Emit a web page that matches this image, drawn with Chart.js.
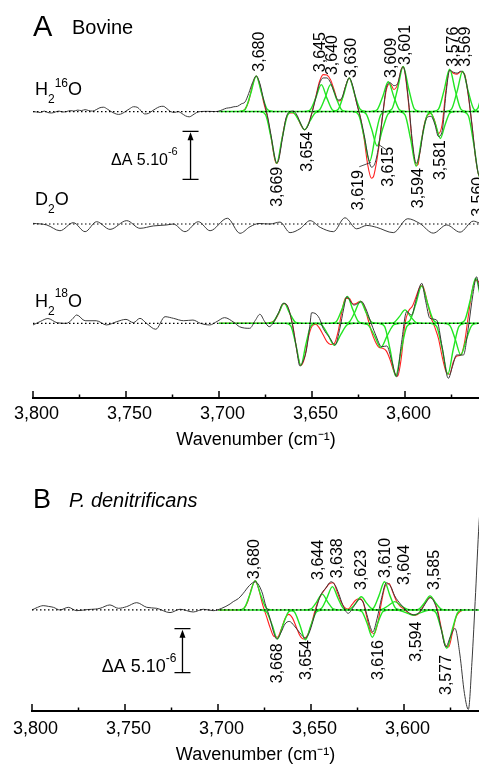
<!DOCTYPE html>
<html><head><meta charset="utf-8">
<script src="https://cdn.jsdelivr.net/npm/chart.js@4.4.1/dist/chart.umd.min.js"></script>
<style>
html,body{margin:0;padding:0;background:#fff;width:479px;height:766px;overflow:hidden;}
#wrapA{position:absolute;left:0;top:0;width:479px;height:460px;}
#wrapB{position:absolute;left:0;top:460px;width:479px;height:306px;}
canvas{display:block;}
</style></head><body>
<div id="wrapA"><canvas id="cA" width="479" height="460"></canvas></div>
<div id="wrapB"><canvas id="cB" width="479" height="306"></canvas></div>
<script>
// ---------------- DATA (values in units of 1e-6 absorbance, wavenumber in cm-1) ----------------
const tickWn = [3800,3775,3750,3725,3700,3675,3650,3625,3600,3575];
const tickLabels = ['3,800','','3,750','','3,700','','3,650','','3,600',''];
const scaleBarValue = 5;

const zeroLine = [[3800,0],[3550,0]];
const fitRange = [[3700,0],[3550,0]];

// Panel A, H2 16O
const h16Black = [[3800,0],[3798,-0.05],[3796,-0.1],[3794,0.05],[3792,-0.1],[3790,-0.15],[3788,-0.05],[3786,0.05],[3784,-0.05],[3782,0],[3780,0.1],[3778,0.05],[3776,0.15],[3774,0.1],[3772,0.2],[3770,0.1],[3768,0.05],[3766,0.2],[3764,0.4],[3762,0.45],[3760,0.25],[3758,0],[3756,-0.2],[3754,-0.3],[3752,-0.2],[3750,0.05],[3748,0.3],[3746,0.5],[3744,0.45],[3742,0.1],[3740,-0.25],[3738,-0.2],[3736,0.05],[3734,0.3],[3732,0.5],[3730,0.55],[3728,0.3],[3726,0],[3724,-0.1],[3722,0],[3720,-0.2],[3718,-0.45],[3716,-0.55],[3714,-0.35],[3712,-0.1],[3710,0],[3706,0.02],[3702,0],[3700,0.05],[3698,0.2],[3696,0.35],[3694,0.4],[3692,0.5],[3690,0.55],[3688,0.8],[3686,1.0],[3684,1.9],[3682,3.0],[3680,3.7],[3678,2.9],[3676,1.2],[3674,-0.4],[3672,-2.5],[3670,-4.8],[3669,-5.35],[3668,-5.1],[3666,-2.9],[3664,-0.7],[3662,0],[3660,0.05],[3658,-0.4],[3656,-1.3],[3654,-1.9],[3652,-1.4],[3650,-0.1],[3648,1.4],[3646,2.9],[3644,3.5],[3642,3.5],[3640,3.0],[3638,2.0],[3636,1.2],[3634,1.4],[3632,2.6],[3630,3.5],[3628,2.6],[3626,0.9],[3624,-0.6],[3622,-2.4],[3620,-4.6],[3618,-5.8],[3616,-5.3],[3614,-3.4],[3612,-0.3],[3610,2.5],[3608,3.0],[3606,2.7],[3604,2.9],[3602,4.4],[3601,4.65],[3600,4.1],[3598,0.9],[3596,-3.2],[3594,-5.4],[3592,-4.3],[3590,-1.8],[3588,-0.6],[3586,-0.5],[3584,-1.3],[3582,-2.6],[3580,-2.0],[3578,1.8],[3576,4.3],[3574,4.1],[3572,4.0],[3570,4.2],[3568,3.8],[3566,1.8],[3564,-1.4],[3562,-4.8],[3560,-6.7],[3558,-6.2]];
const h16Fit = [[3700,0],[3692,0],[3690,0],[3688,0.03],[3686,0.25],[3684,1.1],[3682,2.75],[3680,3.7],[3678,2.7],[3676,0.95],[3674,-0.55],[3672,-2.7],[3670,-5.0],[3669,-5.4],[3668,-5.0],[3666,-2.7],[3664,-0.8],[3662,-0.15],[3660,-0.15],[3658,-0.55],[3656,-1.4],[3654,-1.9],[3652,-1.35],[3650,-0.1],[3648,1.5],[3646,3.1],[3644,3.85],[3642,3.8],[3640,3.3],[3638,2.2],[3636,1.1],[3634,1.25],[3632,2.6],[3630,3.5],[3628,2.5],[3626,0.9],[3624,-0.6],[3622,-2.8],[3620,-5.6],[3618,-6.95],[3617,-6.8],[3616,-6.0],[3614,-3.6],[3612,-0.4],[3610,2.3],[3608,2.9],[3606,2.3],[3604,2.8],[3602,4.4],[3601,4.7],[3600,4.0],[3598,0.7],[3596,-3.5],[3594,-5.6],[3593,-5.5],[3592,-4.2],[3590,-1.7],[3588,-0.4],[3586,-0.2],[3584,-1.0],[3582,-2.3],[3580,-1.3],[3578,2.2],[3576,4.3],[3574,4.0],[3572,3.9],[3570,4.15],[3568,3.9],[3566,1.7],[3564,-1.4],[3562,-4.9],[3560,-6.8],[3558,-6.0]];
const h16Components = [
  [[3689,0],[3686,0.22],[3683,1.85],[3680,3.7],[3677,1.85],[3674,0.22],[3671,0]],
  [[3678,0],[3675,-0.32],[3672,-2.7],[3669,-5.4],[3666,-2.7],[3663,-0.32],[3660,0]],
  [[3663,0],[3660,-0.11],[3657,-0.95],[3654,-1.9],[3651,-0.95],[3648,-0.11],[3645,0]],
  [[3654,0],[3651,0.17],[3648,1.4],[3645,2.8],[3642,1.4],[3639,0.17],[3636,0]],
  [[3649,0],[3646,0.17],[3643,1.4],[3640,2.8],[3637,1.4],[3634,0.17],[3631,0]],
  [[3639,0],[3636,0.21],[3633,1.75],[3630,3.5],[3627,1.75],[3624,0.21],[3621,0]],
  [[3628,0],[3625,-0.31],[3622,-2.6],[3619,-5.2],[3616,-2.6],[3613,-0.31],[3610,0]],
  [[3624,0],[3621,-0.22],[3618,-1.8],[3615,-3.6],[3612,-1.8],[3609,-0.22],[3606,0]],
  [[3618,0],[3615,0.19],[3612,1.55],[3609,3.1],[3606,1.55],[3603,0.19],[3600,0]],
  [[3610,0],[3607,0.28],[3604,2.35],[3601,4.7],[3598,2.35],[3595,0.28],[3592,0]],
  [[3603,0],[3600,-0.34],[3597,-2.85],[3594,-5.7],[3591,-2.85],[3588,-0.34],[3585,0]],
  [[3588.5,0],[3586,-0.17],[3583.5,-1.4],[3581,-2.8],[3578.5,-1.4],[3576,-0.17],[3573.5,0]],
  [[3585,0],[3582,0.26],[3579,2.2],[3576,4.4],[3573,2.2],[3570,0.26],[3567,0]],
  [[3578,0],[3575,0.25],[3572,2.1],[3569,4.2],[3566,2.1],[3563,0.25],[3560,0]],
  [[3569,0],[3566,-0.41],[3563,-3.4],[3560,-6.8],[3557,-3.4],[3554,-0.41],[3551,0]],
  [[3564,0],[3561,0.3],[3558,2.5],[3555,5.0],[3552,2.5],[3549,0.3],[3546,0]]
];
// [text, wavenumber, value, direction]
const h16PeakLabels = [
  ['3,680',3678.3,4.15,1],['3,645',3645.3,4.1,1],['3,640',3639.1,3.8,1],['3,630',3628.7,3.5,1],
  ['3,609',3607.2,3.5,1],['3,601',3599.5,4.85,1],['3,576',3574.0,4.67,1],['3,569',3567.2,4.67,1],
  ['3,669',3668.4,-5.75,-1],['3,654',3652.5,-2.1,-1],['3,619',3625.1,-6.1,-1],['3,615',3609.0,-3.67,-1],
  ['3,594',3592.8,-5.9,-1],['3,581',3580.8,-2.97,-1],['3,560',3560.6,-6.8,-1]
];
const h16Leaders = [[3618.4,-5.3,3624.6,-5.75],[3614.3,-3.42,3609.9,-4.0]];

// Panel A, D2O
const d2oBlack = [[3800,0.07],[3792.6,-0.1],[3785.5,-0.7],[3778.3,0.14],[3772,-0.8],[3765.8,0.24],[3758.6,-0.56],[3749.6,0.35],[3742.5,-0.45],[3735.3,-0.2],[3728.1,-0.1],[3724.6,0],[3718.3,-0.8],[3711.1,0.24],[3704.8,-0.7],[3695.5,0.6],[3688.7,-0.97],[3683.3,-0.28],[3678.5,0.05],[3672.6,0],[3667.2,0.2],[3661.8,-0.9],[3656.5,-0.5],[3651,0.35],[3645.6,-0.35],[3638.5,-0.8],[3632.3,0.65],[3626,-0.5],[3620.6,-0.15],[3615.2,-0.35],[3606.3,-0.9],[3598.5,0.55],[3592,0.05],[3584.8,-0.95],[3577.6,-0.1],[3570.4,-0.85],[3563.3,0.3],[3560,0.1]];

// Panel A, H2 18O
const h18Black = [[3800,-0.17],[3796,0.2],[3792,0.5],[3787,0.06],[3782,0],[3779,0.4],[3776.5,0.87],[3772,0.27],[3766,0.27],[3760.5,-0.17],[3755,0.17],[3750,0.41],[3746,0.07],[3742.5,0.52],[3739,0],[3734,-0.62],[3729,0.69],[3724.5,0.52],[3719,0.27],[3714,0.34],[3710,0.0],[3705,-0.17],[3701,0.2],[3697,0.59],[3692,0.1],[3689,-0.35],[3683.5,-0.52],[3680.5,0.3],[3678,0.94],[3675.5,0.2],[3673,-0.35],[3671,0],[3668,1.1],[3665.5,2.08],[3663.5,1.9],[3661,0.34],[3658.5,-2.4],[3656.5,-4.45],[3654.5,-3.8],[3653,-2.78],[3651.2,-0.3],[3650.2,1.1],[3648.4,1.04],[3646,0.5],[3644,-0.52],[3640.5,-1.5],[3637.6,-2.26],[3635,-0.5],[3633,1.5],[3631.3,2.77],[3629,2.2],[3627.4,1.9],[3625,2.1],[3623.3,2.25],[3621,1.5],[3618.8,0.34],[3616,-1.1],[3612.5,-2.44],[3609.8,-2.36],[3607,-4.0],[3604.5,-5.56],[3602,-2.2],[3599.1,1.21],[3596.4,0.86],[3594,2.5],[3591,4.17],[3589,2.4],[3586.6,0.52],[3583,0.34],[3580,-2.5],[3576.7,-5.73],[3574.5,-4.5],[3572.3,-3.3],[3568.6,-3.3],[3566,-0.5],[3563.5,3.0],[3561.5,4.85],[3560,3.47],[3558,2.5]];
const h18Fit = [[3700,0],[3680,0],[3676,0],[3674,0],[3672,0.1],[3670,0.3],[3668,1.0],[3666,1.9],[3665,2.05],[3664,2.0],[3662,1.1],[3660,-0.6],[3658,-3.0],[3656,-4.4],[3654,-3.6],[3652,-1.5],[3650,-0.3],[3648,-0.1],[3646,-0.5],[3644,-1.2],[3642,-1.9],[3640,-2.2],[3638,-2.1],[3636,-0.9],[3634,1.2],[3632,2.6],[3630,2.6],[3628,2.0],[3626,2.1],[3624,2.3],[3622,1.8],[3620,0.5],[3618,-0.9],[3616,-1.9],[3614,-2.5],[3612,-2.6],[3610,-2.9],[3608,-3.8],[3606,-5.0],[3604,-5.5],[3602,-3.6],[3600,0.0],[3598,1.3],[3596,1.8],[3594,2.8],[3592,3.8],[3591,3.9],[3590,3.7],[3588,2.2],[3586,0.6],[3584,-0.4],[3582,-1.6],[3580,-3.5],[3578,-5.0],[3576,-5.3],[3574,-4.0],[3572,-3.4],[3570,-3.3],[3568,-2.0],[3566,0.7],[3564,3.3],[3562,4.5],[3560,4.2],[3558,3.0]];
const h18Components = [
  [[3674,0],[3671,0.13],[3668,1.05],[3665,2.1],[3662,1.05],[3659,0.13],[3656,0]],
  [[3664,0],[3661.4,-0.26],[3658.7,-2.2],[3656,-4.4],[3653.3,-2.2],[3650.6,-0.26],[3648,0]],
  [[3648.5,0],[3645,-0.14],[3641.5,-1.15],[3638,-2.3],[3634.5,-1.15],[3631,-0.14],[3627.5,0]],
  [[3640,0],[3637,0.17],[3634,1.4],[3631,2.8],[3628,1.4],[3625,0.17],[3622,0]],
  [[3633,0],[3630,0.14],[3627,1.15],[3624,2.3],[3621,1.15],[3618,0.14],[3615,0]],
  [[3623.5,0],[3620,-0.15],[3616.5,-1.25],[3613,-2.5],[3609.5,-1.25],[3606,-0.15],[3602.5,0]],
  [[3614,0],[3611,-0.33],[3608,-2.75],[3605,-5.5],[3602,-2.75],[3599,-0.33],[3596,0]],
  [[3609,0],[3606,0.08],[3603,0.7],[3600,1.4],[3597,0.7],[3594,0.08],[3591,0]],
  [[3601,0],[3597.6,0.23],[3594.3,1.95],[3591,3.9],[3587.7,1.95],[3584.4,0.23],[3581,0]],
  [[3586,0],[3583,-0.32],[3580,-2.65],[3577,-5.3],[3574,-2.65],[3571,-0.32],[3568,0]],
  [[3579,0],[3576,-0.2],[3573,-1.65],[3570,-3.3],[3567,-1.65],[3564,-0.2],[3561,0]],
  [[3571,0],[3568,0.28],[3565,2.35],[3562,4.7],[3559,2.35],[3556,0.28],[3553,0]]
];

// Panel B, P. denitrificans
const bBlack = [[3800,0],[3797,0.3],[3794,0.49],[3791,0.4],[3788.5,0.3],[3785,0],[3780.5,0.3],[3776,-0.08],[3770,0.05],[3766,0.1],[3763.4,0.19],[3758.1,0.57],[3753.6,0.19],[3749.1,0.38],[3743.7,0.83],[3738.3,0.3],[3733,0.19],[3725.8,-0.3],[3720.4,0.08],[3713.3,-0.23],[3707.9,0.08],[3702.5,-0.08],[3698,0.19],[3693.5,0.68],[3691.8,0.95],[3689,1.3],[3686.4,1.9],[3683,2.8],[3680,3.2],[3678,2.8],[3676,1.8],[3674.7,0.76],[3672,-1.0],[3670,-2.6],[3668.4,-3.3],[3666,-2.5],[3664,-1.6],[3661.7,-1.3],[3659,-1.8],[3656,-2.6],[3653,-3.2],[3651,-2.6],[3649,-1.3],[3647,0.3],[3645,1.6],[3642,2.5],[3639.2,3.2],[3637,2.8],[3635,1.8],[3633,0.6],[3630,-0.38],[3627,0.4],[3624,1.2],[3622,0.9],[3620,-0.5],[3618,-2.0],[3616.8,-2.5],[3614.5,-1.0],[3612,1.4],[3609.5,3.1],[3607,2.6],[3605,1.6],[3602,0.7],[3599,0.0],[3596,-0.5],[3594,-0.55],[3591,-0.1],[3588,0.9],[3586,1.4],[3584,1.0],[3582,-0.2],[3580,-2.2],[3577.5,-4.2],[3575,-3.0],[3572.6,-2.1],[3570,-5.0],[3567.5,-9.5],[3565.4,-11.3],[3563.5,-6],[3561.5,2],[3559.7,9.7],[3558,14]];
const bFit = [[3700,0],[3694,0],[3690,0],[3688,0.02],[3686,0.2],[3684,0.95],[3682,2.45],[3680,3.3],[3678,2.3],[3676,0.6],[3674,-0.7],[3672,-2.0],[3670,-3.0],[3668,-3.1],[3666,-2.2],[3664,-1.0],[3662,-0.5],[3660,-0.9],[3658,-1.9],[3656,-2.9],[3654,-3.3],[3652,-2.9],[3650,-1.8],[3648,-0.2],[3646,1.1],[3644,1.9],[3642,2.5],[3640,3.0],[3638,3.1],[3636,2.1],[3634,1.0],[3632,0.3],[3630,0.1],[3628,0.6],[3626,1.1],[3624,1.3],[3622,0.9],[3620,-0.8],[3618,-2.4],[3616,-2.7],[3614,-1.4],[3612,1.0],[3610,2.8],[3608,3.0],[3606,2.0],[3604,1.0],[3602,0.4],[3600,0.1],[3598,-0.3],[3596,-0.5],[3594,-0.6],[3592,-0.4],[3590,0.3],[3588,1.0],[3586,1.45],[3584,1.1],[3582,0.0],[3580,-2.0],[3578,-3.9],[3576,-4.2],[3574,-2.6],[3572,-0.8],[3570,-0.2],[3568,0]];
const bComponents = [
  [[3689,0],[3686,0.2],[3683,1.67],[3680,3.33],[3677,1.67],[3674,0.2],[3671,0]],
  [[3677,0],[3674,-0.2],[3671,-1.65],[3668,-3.3],[3665,-1.65],[3662,-0.2],[3659,0]],
  [[3662,0],[3659,-0.2],[3656,-1.7],[3653,-3.4],[3650,-1.7],[3647,-0.2],[3644,0]],
  [[3653,0],[3650,0.11],[3647,0.9],[3644,1.8],[3641,0.9],[3638,0.11],[3635,0]],
  [[3647.5,0],[3644.5,0.16],[3641.5,1.33],[3638.5,2.65],[3635.5,1.33],[3632.5,0.16],[3629.5,0]],
  [[3632,0],[3629,0.09],[3626,0.75],[3623,1.5],[3620,0.75],[3617,0.09],[3614,0]],
  [[3625.4,0],[3622.6,-0.19],[3619.8,-1.55],[3617,-3.1],[3614.2,-1.55],[3611.4,-0.19],[3608.6,0]],
  [[3619.5,0],[3616.5,0.19],[3613.5,1.6],[3610.5,3.2],[3607.5,1.6],[3604.5,0.19],[3601.5,0]],
  [[3615.5,0],[3612,0.06],[3608.5,0.48],[3605,0.95],[3601.5,0.48],[3598,0.06],[3594.5,0]],
  [[3607,0],[3603,-0.04],[3599,-0.3],[3595,-0.6],[3591,-0.3],[3587,-0.04],[3583,0]],
  [[3595,0],[3592,0.1],[3589,0.8],[3586,1.6],[3583,0.8],[3580,0.1],[3577,0]],
  [[3586,0],[3583,-0.26],[3580,-2.18],[3577,-4.35],[3574,-2.18],[3571,-0.26],[3568,0]]
];
const bPeakLabels = [
  ['3,680',3680.1,3.49,1],['3,644',3645.7,3.41,1],['3,638',3635.9,3.6,1],['3,623',3622.7,2.27,1],
  ['3,610',3609.8,3.64,1],['3,604',3599.5,2.84,1],['3,585',3583.3,2.27,1],
  ['3,668',3668.1,-3.78,-1],['3,654',3652.3,-3.41,-1],['3,616',3613.8,-3.41,-1],['3,594',3593.2,-1.33,-1],['3,577',3577.0,-5.11,-1]
];

// ---------------- LAYOUT / STYLE ----------------
const FONT = '"Liberation Sans", Arial, Helvetica, sans-serif';
const C_BLACK = '#3a3a3a', C_RED = '#ff2020', C_GREEN = '#22e622';
const A_OFF = {h16: 29.84, d2o: 18.125, h18: 7.78};
const B_OFF = 11.48;

function line(points, off, color, width, order, dash) {
  return {
    data: points.map(p => ({x: p[0], y: p[1] + off})),
    borderColor: color, borderWidth: width, pointRadius: 0, pointHoverRadius: 0,
    fill: false, cubicInterpolationMode: 'monotone', order: order, borderDash: dash || []
  };
}
function spectrum(off, black, fit, comps) {
  const ds = [line(zeroLine, off, '#000', 1.2, 0, [1.5, 2.5]), line(black, off, C_BLACK, 1, 1)];
  if (comps) {
    ds.push(line(fitRange, off, C_GREEN, 1.4, 2));
    comps.forEach(c => ds.push(line(c, off, C_GREEN, 1.4, 2)));
  }
  if (fit) ds.push(line(fit, off, C_RED, 1.1, 3));
  return ds;
}

function drawParts(ctx, x, y, parts) {
  let cx = x;
  parts.forEach(([t, size, dy, style]) => {
    ctx.font = (style || '') + ' ' + size + 'px ' + FONT;
    ctx.textAlign = 'left'; ctx.textBaseline = 'alphabetic';
    ctx.fillText(t, cx, y + dy);
    cx += ctx.measureText(t).width;
  });
}

function annot(cfg) {
  return {
    id: 'annot',
    afterDraw(chart) {
      const ctx = chart.ctx, xs = chart.scales.x, ys = chart.scales.y, ca = chart.chartArea;
      ctx.save();
      ctx.strokeStyle = '#000'; ctx.fillStyle = '#000'; ctx.lineWidth = 1.5;
      // inward ticks on the x axis
      xs.ticks.forEach(t => {
        const px = xs.getPixelForValue(t.value);
        const len = (t.value % 50 === 0) ? 7 : 3.5;
        ctx.beginPath(); ctx.moveTo(px, ca.bottom); ctx.lineTo(px, ca.bottom - len); ctx.stroke();
      });
      // peak labels
      ctx.font = '16px ' + FONT;
      cfg.labels.forEach(([txt, wn, val, dir]) => {
        const px = xs.getPixelForValue(wn), py = ys.getPixelForValue(val + cfg.labelOff);
        ctx.save(); ctx.translate(px, py); ctx.rotate(-Math.PI / 2);
        ctx.textBaseline = 'middle'; ctx.textAlign = dir > 0 ? 'left' : 'right';
        ctx.fillText(txt, 0, 0); ctx.restore();
      });
      // leader lines
      ctx.lineWidth = 0.8; ctx.strokeStyle = '#222';
      (cfg.leaders || []).forEach(([w1, v1, w2, v2]) => {
        ctx.beginPath();
        ctx.moveTo(xs.getPixelForValue(w1), ys.getPixelForValue(v1 + cfg.labelOff));
        ctx.lineTo(xs.getPixelForValue(w2), ys.getPixelForValue(v2 + cfg.labelOff));
        ctx.stroke();
      });
      // scale bar
      const b = cfg.bar;
      const bx = xs.getPixelForValue(b.wn), yb = ys.getPixelForValue(b.v0), yt = ys.getPixelForValue(b.v0 + scaleBarValue);
      ctx.strokeStyle = '#000'; ctx.lineWidth = 1.3;
      ctx.beginPath();
      ctx.moveTo(bx, yb); ctx.lineTo(bx, yt + 6);
      ctx.moveTo(bx - 8, yb); ctx.lineTo(bx + 8, yb);
      ctx.moveTo(bx - 8, yt); ctx.lineTo(bx + 8, yt);
      ctx.stroke();
      ctx.beginPath(); ctx.moveTo(bx, yt + 1); ctx.lineTo(bx - 3, yt + 9); ctx.lineTo(bx + 3, yt + 9); ctx.closePath(); ctx.fill();
      // free texts
      cfg.texts.forEach(tx => drawParts(ctx, tx.x, tx.y, tx.parts));
      ctx.restore();
    }
  };
}

function xScale(min, height, pad, titlePad) {
  return {
    type: 'linear', reverse: true, min: min, max: 3800,
    afterBuildTicks: s => { s.ticks = tickWn.map(v => ({value: v})); },
    afterFit: s => { s.height = height; },
    grid: {display: false, drawTicks: false},
    border: {display: true, color: '#000', width: 2},
    ticks: {autoSkip: false, maxRotation: 0, minRotation: 0, padding: pad, labelOffset: 3.5, color: '#000',
            font: {family: FONT, size: 18}, callback: (v, i) => tickLabels[i]},
    title: {display: true, text: 'Wavenumber (cm\u207B\u00B9)', color: '#000', font: {family: FONT, size: 18},
            padding: {top: 0, bottom: titlePad}}
  };
}

// ---------------- CHART A ----------------
const dsA = [].concat(
  spectrum(A_OFF.h16, h16Black, h16Fit, h16Components),
  spectrum(A_OFF.d2o, d2oBlack, null, null),
  spectrum(A_OFF.h18, h18Black, h18Fit, h18Components)
);
new Chart(document.getElementById('cA'), {
  type: 'line',
  data: {datasets: dsA},
  options: {
    responsive: false, animation: false, events: [],
    layout: {padding: {left: 33, right: 0, top: 0, bottom: 0}},
    plugins: {legend: {display: false}, tooltip: {enabled: false}},
    scales: {x: xScale(3560.22, 62, 5, 9), y: {type: 'linear', display: false, min: 0, max: 41.46}}
  },
  plugins: [annot({
    labels: h16PeakLabels, labelOff: A_OFF.h16, leaders: h16Leaders,
    bar: {wn: 3715.3, v0: 22.78},
    texts: [
      {x: 33, y: 36, parts: [['A', 29, 0]]},
      {x: 72, y: 34, parts: [['Bovine', 20, 0]]},
      {x: 35, y: 95, parts: [['H', 18, 0], ['2', 12, 8], ['16', 12, -8.3], ['O', 18, 0]]},
      {x: 35, y: 205, parts: [['D', 18, 0], ['2', 12, 7.7], ['O', 18, 0]]},
      {x: 35, y: 307, parts: [['H', 18, 0], ['2', 12, 8], ['18', 12, -10], ['O', 18, 0]]},
      {x: 111, y: 165, parts: [['\u0394A 5.10', 16, 0], ['-6', 11, -10.5]]}
    ]
  })]
});

// ---------------- CHART B ----------------
new Chart(document.getElementById('cB'), {
  type: 'line',
  data: {datasets: spectrum(B_OFF, bBlack, bFit, bComponents)},
  options: {
    responsive: false, animation: false, events: [],
    layout: {padding: {left: 32, right: 0, top: 0, bottom: 0}},
    plugins: {legend: {display: false}, tooltip: {enabled: false}},
    scales: {x: xScale(3559.68, 55, 7, 0), y: {type: 'linear', display: false, min: 0, max: 28.52}}
  },
  plugins: [annot({
    labels: bPeakLabels, labelOff: B_OFF,
    bar: {wn: 3719.1, v0: 4.35},
    texts: [
      {x: 33, y: 48, parts: [['B', 27, 0]]},
      {x: 69, y: 47, parts: [['P. denitrificans', 20, 0, 'italic']]},
      {x: 101.7, y: 211.7, parts: [['\u0394A 5.10', 18, 0], ['-6', 12, -10]]}
    ]
  })]
});
</script></body></html>
